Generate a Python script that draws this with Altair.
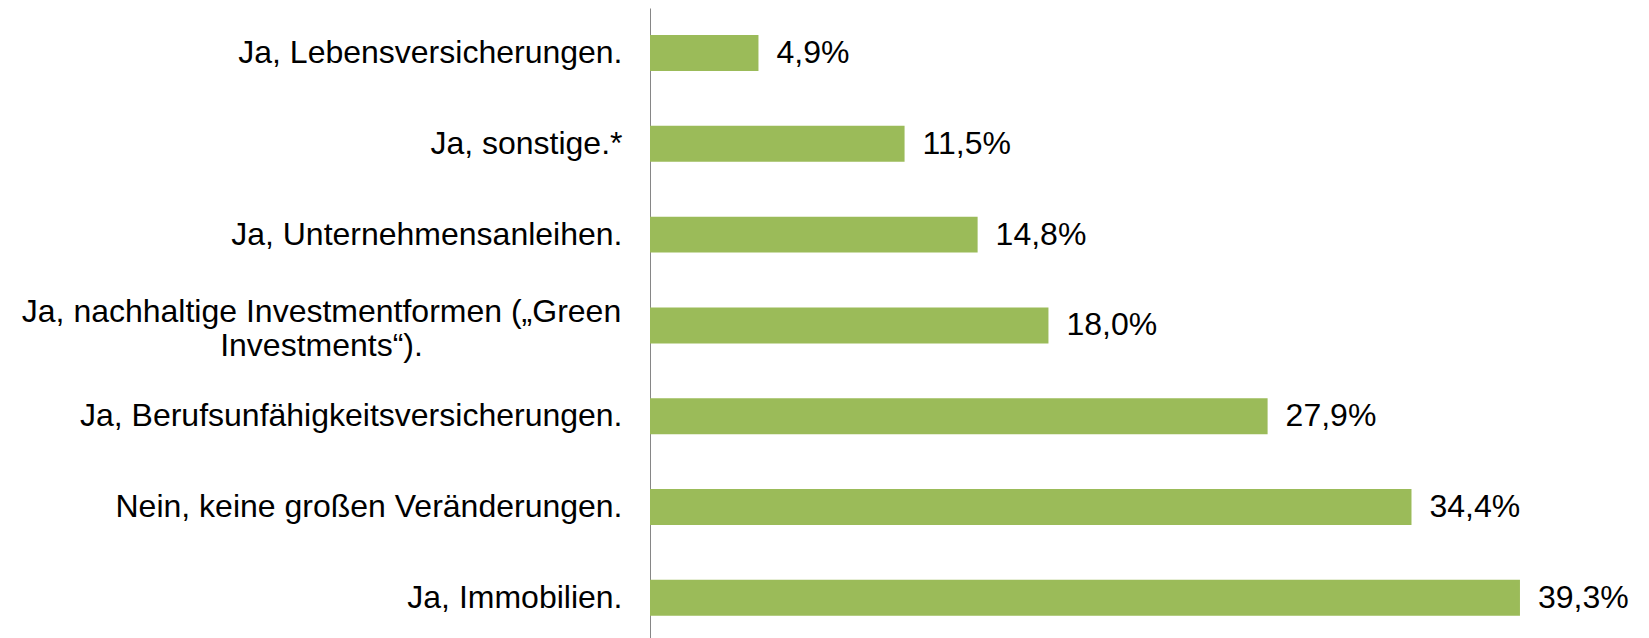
import altair as alt
import pandas as pd

categories = [
    "Ja, Lebensversicherungen.",
    "Ja, sonstige.*",
    "Ja, Unternehmensanleihen.",
    "Ja, nachhaltige Investmentformen („Green|Investments“).",
    "Ja, Berufsunfähigkeitsversicherungen.",
    "Nein, keine großen Veränderungen.",
    "Ja, Immobilien.",
]
values = [4.9, 11.5, 14.8, 18.0, 27.9, 34.4, 39.3]

df = pd.DataFrame({"kategorie": categories, "wert": values})

multi = "indexof(datum.label,'|')>=0"

y_enc = alt.Y(
    "kategorie:N",
    sort=categories,
    title=None,
    scale=alt.Scale(paddingInner=0.604, paddingOuter=0.271, align=0.549),
    axis=alt.Axis(
        labelExpr="split(datum.label, '|')",
        labelFont="Liberation Sans",
        labelFontSize=32,
        labelColor="#000000",
        labelAlign={"expr": multi + " ? 'center' : 'right'"},
        labelPadding={"expr": multi + " ? 329 : 28"},
        labelOffset={"expr": multi + " ? -13 : 0"},
        labelLineHeight=34,
        labelLimit=0,
        ticks=False,
        tickSize=0,
        domainColor="#868686",
        domainWidth=1,
        grid=False,
    ),
)
x_enc = alt.X("wert:Q", axis=None, scale=alt.Scale(domain=[0, 44], nice=False, zero=True))

base = alt.Chart(df)

bars = base.mark_bar(color="#9BBB59").encode(x=x_enc, y=y_enc)

texts = base.transform_calculate(
    lbl="replace(format(datum.wert, '.1f'), '.', ',') + '%'"
).mark_text(
    align="left", baseline="middle", dx=18, font="Liberation Sans", fontSize=32, color="#000000"
).encode(x=x_enc, y=y_enc, text="lbl:N")

chart = (
    alt.layer(bars, texts)
    .properties(
        width=974,
        height=630,
        autosize=alt.AutoSizeParams(type="none"),
        padding={"left": 642, "top": 0, "right": 17, "bottom": 0},
        background="white",
    )
    .configure_view(stroke=None)
)

chart.save("out.html", embed_options={"renderer": "svg", "actions": False})
